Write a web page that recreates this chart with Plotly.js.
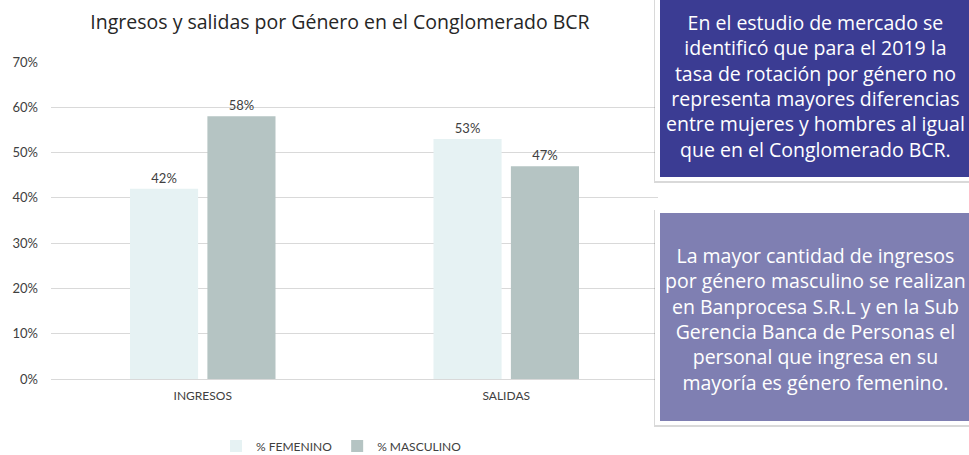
<!DOCTYPE html>
<html>
<head>
<meta charset="utf-8">
<script src="https://cdn.plot.ly/plotly-3.0.1.min.js"></script>
<style>html,body{margin:0;padding:0;background:#fff;}#chart{width:969px;height:455px;}</style>
</head>
<body>
<div id="chart"></div>
<script>
const categories = ["INGRESOS", "SALIDAS"];
const femenino = [42, 53];
const masculino = [58, 47];
const seriesNames = ["% FEMENINO", "% MASCULINO"];
const yTicks = [0, 10, 20, 30, 40, 50, 60, 70];
const titleText = "Ingresos y salidas por Género en el Conglomerado BCR";
const box1Text = ["En el estudio de mercado se", "identificó que para el 2019 la", "tasa de rotación por género no", "representa mayores diferencias", "entre mujeres y hombres al igual", "que en el Conglomerado BCR."];
const box2Text = ["La mayor cantidad de ingresos", "por género masculino se realizan", "en Banprocesa S.R.L y en la Sub", "Gerencia Banca de Personas el", "personal que ingresa en su", "mayoría es género femenino."];

const W = 969, H = 455;
const L = 51, R = 658, T = 62, B = 379;
const px = x => (x - L) / (R - L);
const py = y => (B - y) / (B - T);

const font = "Lato, 'Open Sans', sans-serif";
const wide = "'Open Sans', sans-serif";

const traces = [
  {type: "bar", name: seriesNames[0], x: categories, y: femenino,
   marker: {color: "#E6F2F3"}, text: femenino.map(v => v + "%"),
   textposition: "outside", cliponaxis: false,
   textfont: {color: "#404040", size: 13, family: font}, hoverinfo: "none"},
  {type: "bar", name: seriesNames[1], x: categories, y: masculino,
   marker: {color: "#B5C4C3"}, text: masculino.map(v => v + "%"),
   textposition: "outside", cliponaxis: false,
   textfont: {color: "#404040", size: 13, family: font}, hoverinfo: "none"}
];

function boxShapes(x0, y0, x1, y1, color) {
  return [
    {type: "rect", xref: "paper", yref: "paper", x0: px(x0 - 6), x1: px(x1 + 4), y0: py(y1 + 6), y1: py(y0 - 3),
     fillcolor: "rgba(0,0,0,0.15)", line: {width: 0}, layer: "above"},
    {type: "rect", xref: "paper", yref: "paper", x0: px(x0 - 5), x1: px(x1 + 2), y0: py(y1 + 4), y1: py(y0 - 5),
     fillcolor: "#FFFFFF", line: {width: 0}, layer: "above"},
    {type: "rect", xref: "paper", yref: "paper", x0: px(x0), x1: px(x1), y0: py(y1), y1: py(y0),
     fillcolor: color, line: {width: 0}, layer: "above"}
  ];
}

const shapes = [].concat(
  boxShapes(660, -10, 985, 177, "#3B3C93"),
  boxShapes(660, 213, 985, 421, "#7F7FB2")
);

const layout = {
  width: W, height: H,
  margin: {l: L, r: W - R, t: T, b: H - B, pad: 0, autoexpand: false},
  paper_bgcolor: "#FFFFFF", plot_bgcolor: "#FFFFFF",
  font: {family: font, color: "#404040", size: 12},
  title: {text: titleText, font: {family: wide, size: 19.5, color: "#262626"},
          x: 340 / W, xref: "container", xanchor: "center", y: 1 - 22 / H, yref: "container", yanchor: "middle"},
  barmode: "group", bargap: 0.49, bargroupgap: 0.12,
  showlegend: true,
  legend: {orientation: "h", x: px(216), xanchor: "left", y: py(446), yanchor: "middle",
           font: {family: font, size: 12, color: "#404040"}, itemwidth: 30, traceorder: "normal", tracegroupgap: 0},
  xaxis: {type: "category", showgrid: false, zeroline: false, showline: false, ticks: "", automargin: false,
          tickfont: {family: font, size: 12, color: "#404040"}, ticklabelstandoff: 8},
  yaxis: {range: [0, 70], tickvals: yTicks, ticktext: yTicks.map(v => v + "%"), automargin: false,
          showgrid: true, gridcolor: "#D9D9D9", gridwidth: 1, zeroline: true, zerolinecolor: "#D9D9D9",
          showline: false, ticks: "", tickfont: {family: font, size: 13, color: "#404040"}, ticklabelstandoff: 12},
  shapes: shapes,
  annotations: [
    {xref: "paper", yref: "paper", x: px(815), y: py(86.5), xanchor: "center", yanchor: "middle",
     text: box1Text.join("<br>"), showarrow: false, align: "center",
     font: {family: wide, size: 19.5, color: "#FFFFFF"}},
    {xref: "paper", yref: "paper", x: px(815), y: py(318.5), xanchor: "center", yanchor: "middle",
     text: box2Text.join("<br>"), showarrow: false, align: "center",
     font: {family: wide, size: 19.5, color: "#FFFFFF"}}
  ]
};

Plotly.newPlot("chart", traces, layout, {displayModeBar: false, staticPlot: true});
</script>
</body>
</html>
